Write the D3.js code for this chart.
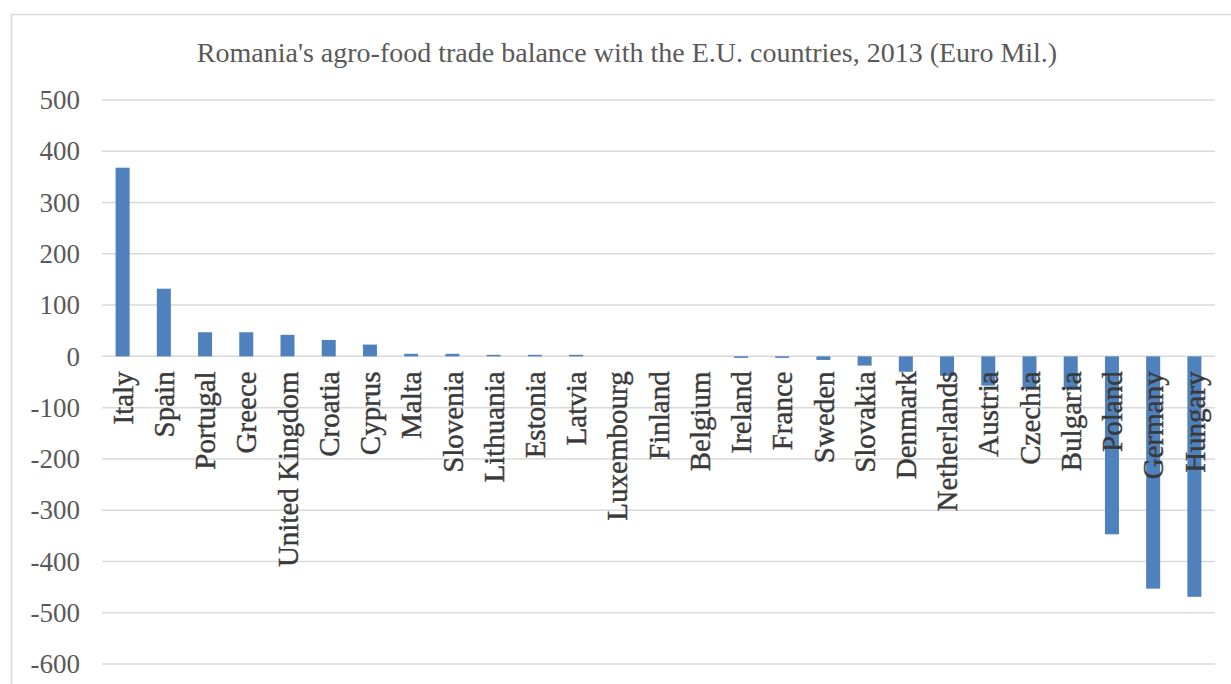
<!DOCTYPE html>
<html>
<head>
<meta charset="utf-8">
<script src="https://cdn.jsdelivr.net/npm/d3@7"></script>
<style>
  html, body { margin: 0; padding: 0; background: #ffffff; }
  svg { display: block; }
</style>
</head>
<body>
<svg id="chart" width="1231" height="684"></svg>
<script>
// Romania's agro-food trade balance with EU member states, 2013 (million euro)
const countries = [
  "Italy", "Spain", "Portugal", "Greece", "United Kingdom", "Croatia", "Cyprus",
  "Malta", "Slovenia", "Lithuania", "Estonia", "Latvia", "Luxembourg", "Finland",
  "Belgium", "Ireland", "France", "Sweden", "Slovakia", "Denmark", "Netherlands",
  "Austria", "Czechia", "Bulgaria", "Poland", "Germany", "Hungary"
];
const balance = [
  368, 132, 47, 47, 42, 32, 23,
  5, 5, 3, 3, 3, 0, 0,
  0, -3, -3, -7, -18, -30, -38,
  -57, -63, -64, -347, -453, -469
];
const yTicks = [500, 400, 300, 200, 100, 0, -100, -200, -300, -400, -500, -600];
const title = "Romania's agro-food trade balance with the E.U. countries, 2013 (Euro Mil.)";

const svg = d3.select("#chart");
const font = "'Liberation Serif', 'Times New Roman', serif";

// outer chart frame
svg.append("rect")
  .attr("x", 11.5).attr("y", 14.5)
  .attr("width", 1260).attr("height", 720)
  .attr("fill", "#ffffff")
  .attr("stroke", "#d9d9d9").attr("stroke-width", 1.5);

const plot = { left: 102, right: 1215, top: 100, bottom: 664 };

const x = d3.scaleBand()
  .domain(countries)
  .range([plot.left, plot.right])
  .paddingInner(0.66)
  .paddingOuter(0.33);

const y = d3.scaleLinear()
  .domain([-600, 500])
  .range([plot.bottom, plot.top]);

// horizontal gridlines
svg.append("g")
  .selectAll("line")
  .data(yTicks)
  .join("line")
  .attr("x1", plot.left).attr("x2", plot.right)
  .attr("y1", d => y(d)).attr("y2", d => y(d))
  .attr("stroke", "#d9d9d9").attr("stroke-width", 1.5);

// value axis labels (plain hyphen for negatives)
const yAxis = d3.axisLeft(y).tickValues(yTicks).tickSize(0).tickPadding(0)
  .tickFormat(d => String(d));
svg.append("g")
  .attr("transform", `translate(${plot.left - 22},0)`)
  .call(yAxis)
  .call(g => g.select(".domain").remove())
  .selectAll("text")
  .attr("font-family", font)
  .attr("font-size", 27)
  .attr("fill", "#595959");

// bars
svg.append("g")
  .selectAll("rect")
  .data(countries.map((c, i) => ({ c, v: balance[i] })))
  .join("rect")
  .attr("x", d => x(d.c))
  .attr("width", x.bandwidth())
  .attr("y", d => y(Math.max(0, d.v)))
  .attr("height", d => Math.abs(y(d.v) - y(0)))
  .attr("fill", "#4f81bd");

// category labels, rotated, placed just under the zero line
svg.append("g")
  .selectAll("text")
  .data(countries)
  .join("text")
  .attr("transform", d => `translate(${x(d) + x.bandwidth() / 2},${y(0) + 15}) rotate(-90)`)
  .attr("dy", "0.35em")
  .attr("text-anchor", "end")
  .attr("font-family", font)
  .attr("font-size", 29)
  .attr("fill", "#3a3a3a")
  .attr("stroke", "#3a3a3a")
  .attr("stroke-width", 0.4)
  .text(d => d);

// title
svg.append("text")
  .attr("x", 627).attr("y", 62)
  .attr("text-anchor", "middle")
  .attr("font-family", font)
  .attr("font-size", 28)
  .attr("fill", "#595959")
  .text(title);
</script>
</body>
</html>
